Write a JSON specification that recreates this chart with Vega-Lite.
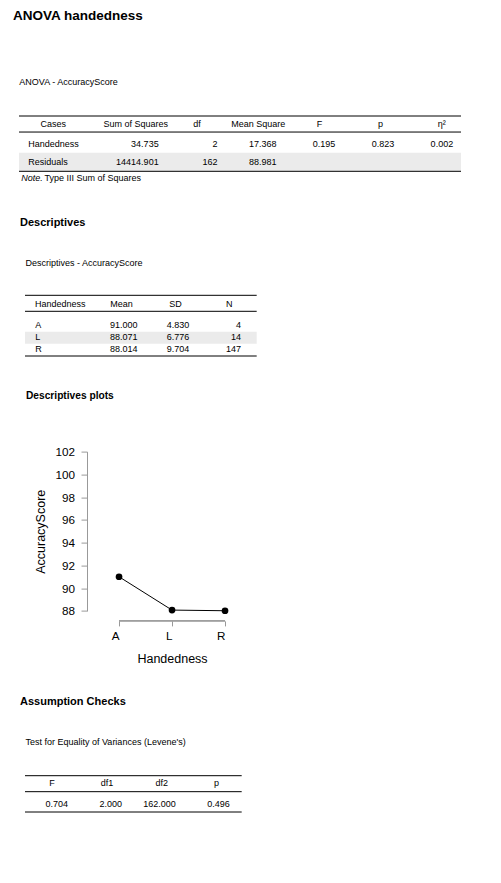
{
  "$schema": "https://vega.github.io/schema/vega-lite/v6.json",
  "background": "white",
  "padding": {"left": 13, "top": 8, "right": 5, "bottom": 5},
  "config": {
    "font": "Liberation Sans",
    "view": {"stroke": null},
    "text": {"fontSize": 9, "color": "black", "baseline": "middle"},
    "title": {"color": "black", "anchor": "start", "frame": "group"}
  },
  "title": {"text": "ANOVA handedness", "fontSize": 13.5, "fontWeight": "bold", "anchor": "start", "frame": "group", "dx": -12, "offset": 55.7},
  "datasets": {
    "anovaTable": [
      {"row": "header", "Cases": "Cases", "Sum of Squares": "Sum of Squares", "df": "df", "Mean Square": "Mean Square", "F": "F", "p": "p", "η²": "η²"},
      {"row": "Handedness", "Cases": "Handedness", "Sum of Squares": "34.735", "df": "2", "Mean Square": "17.368", "F": "0.195", "p": "0.823", "η²": "0.002"},
      {"row": "Residuals", "Cases": "Residuals", "Sum of Squares": "14414.901", "df": "162", "Mean Square": "88.981", "F": "", "p": "", "η²": ""}
    ],
    "descTable": [
      {"row": "header", "Handedness": "Handedness", "Mean": "Mean", "SD": "SD", "N": "N"},
      {"row": "A", "Handedness": "A", "Mean": "91.000", "SD": "4.830", "N": "4"},
      {"row": "L", "Handedness": "L", "Mean": "88.071", "SD": "6.776", "N": "14"},
      {"row": "R", "Handedness": "R", "Mean": "88.014", "SD": "9.704", "N": "147"}
    ],
    "descPlot": [
      {"Handedness": "A", "Mean": 91.0},
      {"Handedness": "L", "Mean": 88.071},
      {"Handedness": "R", "Mean": 88.014}
    ],
    "leveneTable": [
      {"row": "header", "F": "F", "df1": "df1", "df2": "df2", "p": "p"},
      {"row": "values", "F": "0.704", "df1": "2.000", "df2": "162.000", "p": "0.496"}
    ]
  },
  "spacing": 30.7,
  "vconcat": [
    {
      "spacing": 33.3,
      "vconcat": [
        {
          "width": 436,
          "height": 55.3,
          "title": {"text": "ANOVA - AccuracyScore", "fontSize": 9, "fontWeight": "normal", "dx": -5.7, "offset": 28.8},
          "data": {"name": "anovaTable"},
          "resolve": {"scale": {"x": "independent"}},
          "layer": [
            {
              "transform": [{"filter": "datum.row === 'Residuals'"}],
              "mark": {"type": "rect", "color": "#ebebeb", "xOffset": -6},
              "encoding": {
                "x": {"value": 0}, "x2": {"value": "width"},
                "y": {"field": "row", "type": "nominal", "scale": {"type": "band", "domain": ["header", "Handedness", "Residuals"], "paddingInner": 0, "paddingOuter": 0}, "axis": null}
              }
            },
            {
              "transform": [{"filter": "datum.row === 'header'"}],
              "mark": {"type": "rule", "color": "black", "strokeWidth": 1, "xOffset": -6},
              "encoding": {
                "x": {"value": 0}, "x2": {"value": "width"},
                "y": {"field": "row", "type": "nominal", "bandPosition": 0, "scale": {"type": "band", "domain": ["header", "Handedness", "Residuals"], "paddingInner": 0, "paddingOuter": 0}, "axis": null}
              }
            },
            {
              "transform": [{"filter": "datum.row === 'header'"}],
              "mark": {"type": "rule", "color": "black", "strokeWidth": 1, "xOffset": -6},
              "encoding": {
                "x": {"value": 0}, "x2": {"value": "width"},
                "y": {"field": "row", "type": "nominal", "bandPosition": 0.87, "scale": {"type": "band", "domain": ["header", "Handedness", "Residuals"], "paddingInner": 0, "paddingOuter": 0}, "axis": null}
              }
            },
            {
              "transform": [{"filter": "datum.row === 'Residuals'"}],
              "mark": {"type": "rule", "color": "black", "strokeWidth": 1, "xOffset": -6},
              "encoding": {
                "x": {"value": 0}, "x2": {"value": "width"},
                "y": {"field": "row", "type": "nominal", "bandPosition": 1, "scale": {"type": "band", "domain": ["header", "Handedness", "Residuals"], "paddingInner": 0, "paddingOuter": 0}, "axis": null}
              }
            },
            {
              "transform": [
                {"fold": ["Cases", "Sum of Squares", "df", "Mean Square", "F", "p", "η²"], "as": ["col", "cell"]},
                {"filter": "datum.row === 'header' && datum.col !== 'Cases'"}
              ],
              "mark": {"type": "text", "align": "center"},
              "encoding": {
                "x": {
                  "field": "col", "type": "nominal",
                  "scale": {"type": "point", "domain": ["Cases", "Sum of Squares", "df", "Mean Square", "F", "p", "η²"], "padding": 0.562, "align": 0.721},
                  "axis": {"orient": "bottom", "title": "Note.", "domain": false, "ticks": false, "labels": false, "grid": false, "titleAnchor": "start", "titleAlign": "left", "titleX": -4.3, "titlePadding": 2.5, "titleFontSize": 9, "titleFontWeight": "normal", "titleFontStyle": "italic", "titleColor": "black"}
                },
                "y": {"field": "row", "type": "nominal", "bandPosition": 0.45, "scale": {"type": "band", "domain": ["header", "Handedness", "Residuals"], "paddingInner": 0, "paddingOuter": 0}, "axis": null},
                "text": {"field": "cell"}
              }
            },
            {
              "transform": [
                {"fold": ["Cases", "Sum of Squares", "df", "Mean Square", "F", "p", "η²"], "as": ["col", "cell"]},
                {"filter": "datum.row === 'header' && datum.col === 'Cases'"}
              ],
              "mark": {"type": "text", "align": "center", "dx": 28.3},
              "encoding": {
                "x": {"field": "col", "type": "nominal", "scale": {"type": "point", "domain": ["Cases", "Sum of Squares", "df", "Mean Square", "F", "p", "η²"], "padding": 0}, "axis": null},
                "y": {"field": "row", "type": "nominal", "bandPosition": 0.45, "scale": {"type": "band", "domain": ["header", "Handedness", "Residuals"], "paddingInner": 0, "paddingOuter": 0}, "axis": null},
                "text": {"field": "cell"}
              }
            },
            {
              "transform": [
                {"fold": ["Cases", "Sum of Squares", "df", "Mean Square", "F", "p", "η²"], "as": ["col", "cell"]},
                {"filter": "datum.row !== 'header' && datum.col !== 'Cases'"}
              ],
              "mark": {"type": "text", "align": "right"},
              "encoding": {
                "x": {
                  "field": "col", "type": "nominal",
                  "scale": {"type": "point", "domain": ["Cases", "Sum of Squares", "df", "Mean Square", "F", "p", "η²"], "padding": 0.701, "align": 0.905},
                  "axis": {"orient": "bottom", "title": "Type III Sum of Squares", "domain": false, "ticks": false, "labels": false, "grid": false, "titleAnchor": "start", "titleAlign": "left", "titleX": 19, "titlePadding": 2.5, "titleFontSize": 9, "titleFontWeight": "normal", "titleColor": "black"}
                },
                "y": {"field": "row", "type": "nominal", "bandPosition": 0.5, "scale": {"type": "band", "domain": ["header", "Handedness", "Residuals"], "paddingInner": 0, "paddingOuter": 0}, "axis": null},
                "text": {"field": "cell"}
              }
            },
            {
              "transform": [
                {"fold": ["Cases", "Sum of Squares", "df", "Mean Square", "F", "p", "η²"], "as": ["col", "cell"]},
                {"filter": "datum.row !== 'header' && datum.col === 'Cases'"}
              ],
              "mark": {"type": "text", "align": "left", "dx": 3.3},
              "encoding": {
                "x": {"field": "col", "type": "nominal", "scale": {"type": "point", "domain": ["Cases", "Sum of Squares", "df", "Mean Square", "F", "p", "η²"], "padding": 0}, "axis": null},
                "y": {"field": "row", "type": "nominal", "bandPosition": 0.5, "scale": {"type": "band", "domain": ["header", "Handedness", "Residuals"], "paddingInner": 0, "paddingOuter": 0}, "axis": null},
                "text": {"field": "cell"}
              }
            }
          ]
        },
        {
          "width": 231.7,
          "height": 60.7,
          "title": {"text": "Descriptives", "fontSize": 11, "fontWeight": "bold", "dx": -5, "offset": 30.3},
          "data": {"name": "descTable"},
          "resolve": {"scale": {"x": "independent"}},
          "layer": [
            {
              "transform": [{"filter": "datum.row === 'L'"}],
              "mark": {"type": "rect", "color": "#ebebeb"},
              "encoding": {
                "x": {"value": 0}, "x2": {"value": "width"},
                "y": {"field": "row", "type": "nominal", "scale": {"type": "band", "domain": ["header", "gap", "A", "L", "R"], "paddingInner": 0, "paddingOuter": 0}, "axis": null}
              }
            },
            {
              "transform": [{"filter": "datum.row === 'header'"}],
              "mark": {"type": "rule", "color": "black", "strokeWidth": 1},
              "encoding": {
                "x": {"value": 0}, "x2": {"value": "width"},
                "y": {"field": "row", "type": "nominal", "bandPosition": 0, "scale": {"type": "band", "domain": ["header", "gap", "A", "L", "R"], "paddingInner": 0, "paddingOuter": 0}, "axis": null}
              }
            },
            {
              "transform": [{"filter": "datum.row === 'header'"}],
              "mark": {"type": "rule", "color": "black", "strokeWidth": 1},
              "encoding": {
                "x": {"value": 0}, "x2": {"value": "width"},
                "y": {"datum": "gap", "type": "nominal", "bandPosition": 0.318, "scale": {"type": "band", "domain": ["header", "gap", "A", "L", "R"], "paddingInner": 0, "paddingOuter": 0}, "axis": null}
              }
            },
            {
              "transform": [{"filter": "datum.row === 'R'"}],
              "mark": {"type": "rule", "color": "black", "strokeWidth": 1},
              "encoding": {
                "x": {"value": 0}, "x2": {"value": "width"},
                "y": {"field": "row", "type": "nominal", "bandPosition": 1, "scale": {"type": "band", "domain": ["header", "gap", "A", "L", "R"], "paddingInner": 0, "paddingOuter": 0}, "axis": null}
              }
            },
            {
              "transform": [
                {"fold": ["Handedness", "Mean", "SD", "N"], "as": ["col", "cell"]},
                {"filter": "datum.row === 'header' && datum.col !== 'Handedness'"}
              ],
              "mark": {"type": "text", "align": "center"},
              "encoding": {
                "x": {
                  "field": "col", "type": "nominal",
                  "scale": {"type": "point", "domain": ["Handedness", "Mean", "SD", "N"], "padding": 0.649, "align": 0.609},
                  "axis": {"orient": "top", "title": "Descriptives - AccuracyScore", "domain": false, "ticks": false, "labels": false, "grid": false, "titleAnchor": "start", "titleAlign": "left", "titlePadding": 28.1, "titleFontSize": 9, "titleFontWeight": "normal", "titleColor": "black"}
                },
                "y": {"field": "row", "type": "nominal", "bandPosition": 0.7, "scale": {"type": "band", "domain": ["header", "gap", "A", "L", "R"], "paddingInner": 0, "paddingOuter": 0}, "axis": null},
                "text": {"field": "cell"}
              }
            },
            {
              "transform": [
                {"fold": ["Handedness", "Mean", "SD", "N"], "as": ["col", "cell"]},
                {"filter": "datum.row === 'header' && datum.col === 'Handedness'"}
              ],
              "mark": {"type": "text", "align": "left", "dx": 10},
              "encoding": {
                "x": {"field": "col", "type": "nominal", "scale": {"type": "point", "domain": ["Handedness", "Mean", "SD", "N"], "padding": 0}, "axis": null},
                "y": {"field": "row", "type": "nominal", "bandPosition": 0.7, "scale": {"type": "band", "domain": ["header", "gap", "A", "L", "R"], "paddingInner": 0, "paddingOuter": 0}, "axis": null},
                "text": {"field": "cell"}
              }
            },
            {
              "transform": [
                {"fold": ["Handedness", "Mean", "SD", "N"], "as": ["col", "cell"]},
                {"filter": "datum.row !== 'header' && datum.col !== 'Handedness'"}
              ],
              "mark": {"type": "text", "align": "right"},
              "encoding": {
                "x": {"field": "col", "type": "nominal", "scale": {"type": "point", "domain": ["Handedness", "Mean", "SD", "N"], "padding": 0.741, "align": 0.795}, "axis": null},
                "y": {"field": "row", "type": "nominal", "bandPosition": 0.42, "scale": {"type": "band", "domain": ["header", "gap", "A", "L", "R"], "paddingInner": 0, "paddingOuter": 0}, "axis": null},
                "text": {"field": "cell"}
              }
            },
            {
              "transform": [
                {"fold": ["Handedness", "Mean", "SD", "N"], "as": ["col", "cell"]},
                {"filter": "datum.row !== 'header' && datum.col === 'Handedness'"}
              ],
              "mark": {"type": "text", "align": "left", "dx": 10.3},
              "encoding": {
                "x": {"field": "col", "type": "nominal", "scale": {"type": "point", "domain": ["Handedness", "Mean", "SD", "N"], "padding": 0}, "axis": null},
                "y": {"field": "row", "type": "nominal", "bandPosition": 0.42, "scale": {"type": "band", "domain": ["header", "gap", "A", "L", "R"], "paddingInner": 0, "paddingOuter": 0}, "axis": null},
                "text": {"field": "cell"}
              }
            }
          ]
        },
        {
          "width": 212,
          "height": 159.3,
          "title": {"text": "Descriptives plots", "fontSize": 10.2, "fontWeight": "bold", "dx": 1, "offset": 45.5},
          "data": {"name": "descPlot"},
          "layer": [
            {
              "mark": {"type": "rule", "color": "#999999", "strokeWidth": 1, "yOffset": 10},
              "encoding": {
                "x": {"datum": "A", "type": "nominal", "scale": {"type": "point", "domain": ["A", "L", "R"], "padding": 1, "align": 0.887}},
                "x2": {"datum": "R"},
                "y": {"value": "height"}
              }
            },
            {
              "mark": {"type": "line", "color": "black", "strokeWidth": 1},
              "encoding": {
                "x": {
                  "field": "Handedness", "type": "nominal",
                  "scale": {"type": "point", "domain": ["A", "L", "R"], "padding": 1, "align": 0.887},
                  "axis": {"orient": "bottom", "offset": 10, "domain": false, "ticks": true, "tickSize": 5, "tickColor": "#999999", "labelAngle": 0, "labelFontSize": 11.7, "labelColor": "black", "labelPadding": 9.5, "title": "Handedness", "titleX": 147, "titleFontSize": 12.5, "titleFontWeight": "normal", "titleColor": "black", "titlePadding": 10, "grid": false}
                },
                "y": {
                  "field": "Mean", "type": "quantitative",
                  "scale": {"domain": [88, 102], "zero": false, "nice": false},
                  "axis": {"orient": "left", "offset": -62, "values": [88, 90, 92, 94, 96, 98, 100, 102], "domain": true, "domainColor": "#999999", "ticks": true, "tickSize": 6, "tickColor": "#999999", "labelFontSize": 11.7, "labelColor": "black", "labelPadding": 6.5, "labelFlush": false, "labelOverlap": false, "title": "AccuracyScore", "titleFontSize": 12.5, "titleFontWeight": "normal", "titleColor": "black", "titlePadding": 7, "grid": false}
                }
              }
            },
            {
              "mark": {"type": "circle", "color": "black", "size": 45, "opacity": 1},
              "encoding": {
                "x": {
                  "field": "Handedness", "type": "nominal",
                  "scale": {"type": "point", "domain": ["A", "L", "R"], "padding": 1, "align": 0.887},
                  "axis": {"orient": "bottom", "offset": 10, "domain": false, "ticks": true, "tickSize": 5, "tickColor": "#999999", "labelAngle": 0, "labelFontSize": 11.7, "labelColor": "black", "labelPadding": 9.5, "title": "Handedness", "titleX": 147, "titleFontSize": 12.5, "titleFontWeight": "normal", "titleColor": "black", "titlePadding": 10, "grid": false}
                },
                "y": {
                  "field": "Mean", "type": "quantitative",
                  "scale": {"domain": [88, 102], "zero": false, "nice": false},
                  "axis": {"orient": "left", "offset": -62, "values": [88, 90, 92, 94, 96, 98, 100, 102], "domain": true, "domainColor": "#999999", "ticks": true, "tickSize": 6, "tickColor": "#999999", "labelFontSize": 11.7, "labelColor": "black", "labelPadding": 6.5, "labelFlush": false, "labelOverlap": false, "title": "AccuracyScore", "titleFontSize": 12.5, "titleFontWeight": "normal", "titleColor": "black", "titlePadding": 7, "grid": false}
                }
              }
            }
          ]
        }
      ]
    },
    {
      "width": 216.7,
      "height": 36.3,
      "title": {"text": "Assumption Checks", "fontSize": 11, "fontWeight": "bold", "dx": -5, "offset": 31},
      "data": {"name": "leveneTable"},
      "resolve": {"scale": {"x": "independent"}},
      "layer": [
        {
          "transform": [{"filter": "datum.row === 'header'"}],
          "mark": {"type": "rule", "color": "black", "strokeWidth": 1},
          "encoding": {
            "x": {"value": 0}, "x2": {"value": "width"},
            "y": {"field": "row", "type": "nominal", "bandPosition": 0, "scale": {"type": "band", "domain": ["header", "values"], "paddingInner": 0, "paddingOuter": 0}, "axis": null}
          }
        },
        {
          "transform": [{"filter": "datum.row === 'header'"}],
          "mark": {"type": "rule", "color": "black", "strokeWidth": 1},
          "encoding": {
            "x": {"value": 0}, "x2": {"value": "width"},
            "y": {"field": "row", "type": "nominal", "bandPosition": 0.88, "scale": {"type": "band", "domain": ["header", "values"], "paddingInner": 0, "paddingOuter": 0}, "axis": null}
          }
        },
        {
          "transform": [{"filter": "datum.row === 'values'"}],
          "mark": {"type": "rule", "color": "black", "strokeWidth": 1},
          "encoding": {
            "x": {"value": 0}, "x2": {"value": "width"},
            "y": {"field": "row", "type": "nominal", "bandPosition": 1, "scale": {"type": "band", "domain": ["header", "values"], "paddingInner": 0, "paddingOuter": 0}, "axis": null}
          }
        },
        {
          "transform": [
            {"fold": ["F", "df1", "df2", "p"], "as": ["col", "cell"]},
            {"filter": "datum.row === 'header'"}
          ],
          "mark": {"type": "text", "align": "center"},
          "encoding": {
            "x": {
              "field": "col", "type": "nominal",
              "scale": {"type": "point", "domain": ["F", "df1", "df2", "p"], "padding": 0.477, "align": 0.518},
              "axis": {"orient": "top", "title": "Test for Equality of Variances (Levene's)", "domain": false, "ticks": false, "labels": false, "grid": false, "titleAnchor": "start", "titleAlign": "left", "titlePadding": 28.8, "titleFontSize": 9, "titleFontWeight": "normal", "titleColor": "black"}
            },
            "y": {"field": "row", "type": "nominal", "bandPosition": 0.42, "scale": {"type": "band", "domain": ["header", "values"], "paddingInner": 0, "paddingOuter": 0}, "axis": null},
            "text": {"field": "cell"}
          }
        },
        {
          "transform": [
            {"fold": ["F", "df1", "df2", "p"], "as": ["col", "cell"]},
            {"filter": "datum.row === 'values'"}
          ],
          "mark": {"type": "text", "align": "right"},
          "encoding": {
            "x": {"field": "col", "type": "nominal", "scale": {"type": "point", "domain": ["F", "df1", "df2", "p"], "padding": 0.509, "align": 0.783}, "axis": null},
            "y": {"field": "row", "type": "nominal", "bandPosition": 0.56, "scale": {"type": "band", "domain": ["header", "values"], "paddingInner": 0, "paddingOuter": 0}, "axis": null},
            "text": {"field": "cell"}
          }
        }
      ]
    }
  ]
}
